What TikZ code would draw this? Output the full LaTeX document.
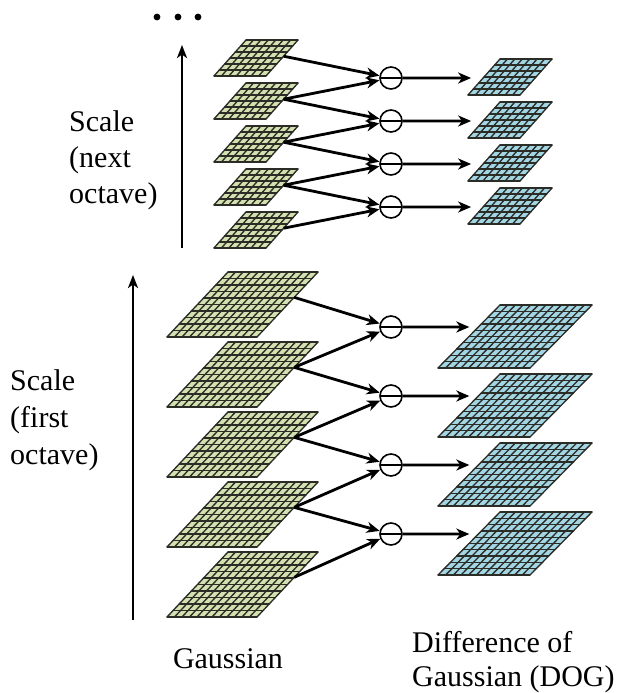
\documentclass[tikz,border=0pt]{standalone}
\usepackage{fontspec}
\setmainfont{Liberation Serif}
\usetikzlibrary{arrows.meta,calc}

\definecolor{gaussfill}{HTML}{D3E0B0}
\definecolor{dogfill}{HTML}{A3D6E4}
\definecolor{gridink}{HTML}{2C2C26}

\tikzset{
  gridline/.style={draw=gridink, line width=1.35pt, line cap=round},
  flow/.style={line width=2.8pt, -{Stealth[length=13pt,width=11pt,inset=4pt]}},
  axis/.style={line width=2.3pt, -{Stealth[length=13pt,width=10pt,inset=3.5pt]}},
  diffop/.style={circle, draw, line width=1.6pt, minimum size=22pt, inner sep=0pt,
    path picture={\draw[line width=1.6pt] (path picture bounding box.west) -- (path picture bounding box.east);}},
  txt/.style={font=\fontsize{30}{36}\selectfont, inner sep=0pt},
}

% \sheet{name}{x0}{ybottom}{width}{height}{shear}{cols}{rows}{fill}
\newcommand{\sheet}[9]{%
  \coordinate (#1-bl) at (#2,#3);
  \coordinate (#1-br) at (#2+#4,#3);
  \coordinate (#1-tr) at (#2+#4+#6,#3-#5);
  \coordinate (#1-tl) at (#2+#6,#3-#5);
  \fill[#9] (#1-bl) -- (#1-br) -- (#1-tr) -- (#1-tl) -- cycle;
  \foreach \k in {0,...,#7}{\draw[gridline] ($(#1-bl)!\k/#7!(#1-br)$) -- ($(#1-tl)!\k/#7!(#1-tr)$);}
  \foreach \k in {0,...,#8}{\draw[gridline] ($(#1-bl)!\k/#8!(#1-tl)$) -- ($(#1-br)!\k/#8!(#1-tr)$);}
}

\begin{document}
\begin{tikzpicture}[x=1pt,y=-1pt]
\useasboundingbox (0,0) rectangle (616,693);

% ---------- next octave ----------
\foreach \n/\yb in {1/76,2/119,3/162,4/205,5/248}{
  \sheet{gt\n}{214}{\yb}{52}{36}{32}{7}{6}{gaussfill}
  \coordinate (gt\n-o) at ($(gt\n-tr)!0.45!(gt\n-br)$);
}
\foreach \n/\yc in {1/78,2/121,3/164,4/207}{
  \pgfmathsetmacro{\yb}{\yc+17}
  \sheet{dt\n}{468}{\yb}{52}{36}{32}{7}{6}{dogfill}
  \coordinate (dt\n-i) at ($(dt\n-tl)!19/36!(dt\n-bl)$);
  \node[diffop] (ct\n) at (391,\yc) {};
}
\foreach \a/\b in {1/1,2/1,2/2,3/2,3/3,4/3,4/4,5/4}{
  \draw[flow] (gt\a-o) -- (ct\b);
}
\foreach \n in {1,...,4}{
  \draw[flow, shorten >=12pt] (ct\n) -- (dt\n-i);
}

% ---------- first octave ----------
\foreach \n/\yb in {1/337,2/407,3/477,4/547,5/617}{
  \sheet{gb\n}{167}{\yb}{90}{65}{61}{12}{10}{gaussfill}
  \coordinate (gb\n-o) at ($(gb\n-tr)!0.39!(gb\n-br)$);
}
\foreach \n/\yc in {1/327,2/396,3/465,4/534}{
  \pgfmathsetmacro{\yb}{\yc+41}
  \sheet{db\n}{438}{\yb}{92}{63}{62}{12}{10}{dogfill}
  \coordinate (db\n-i) at ($(db\n-tl)!22/63!(db\n-bl)$);
  \node[diffop] (cb\n) at (391,\yc) {};
}
\foreach \a/\b in {1/1,2/1,2/2,3/2,3/3,4/3,4/4,5/4}{
  \draw[flow] (gb\a-o) -- (cb\b);
}
\foreach \n in {1,...,4}{
  \draw[flow, shorten >=9pt] (cb\n) -- (db\n-i);
}

% ---------- scale axes ----------
\coordinate (upA0) at (182,248);
\coordinate (upA1) at (182,45);
\draw[axis] (upA0) -- (upA1);
\coordinate (upB0) at (133,620);
\coordinate (upB1) at (133,275);
\draw[axis] (upB0) -- (upB1);

% ellipsis above the stack
\foreach \x in {157,178,198}{\fill (\x,17) circle (3.4);}

% ---------- labels ----------
\node[txt, anchor=base west] (sn1) at (69,131) {Scale};
\node[txt, anchor=base west] (sn2) at (69,167) {(next};
\node[txt, anchor=base west] (sn3) at (69,203) {octave)};
\node[txt, anchor=base west] (sf1) at (10,390) {Scale};
\node[txt, anchor=base west] (sf2) at (10,427) {(first};
\node[txt, anchor=base west] (sf3) at (10,464) {octave)};
\node[txt, anchor=base] (gl) at (228,668) {Gaussian};
\node[txt, anchor=base west] (dl1) at (412,652) {Difference of};
\node[txt, anchor=base west] (dl2) at (412,686) {Gaussian (DOG)};
\end{tikzpicture}
\end{document}
